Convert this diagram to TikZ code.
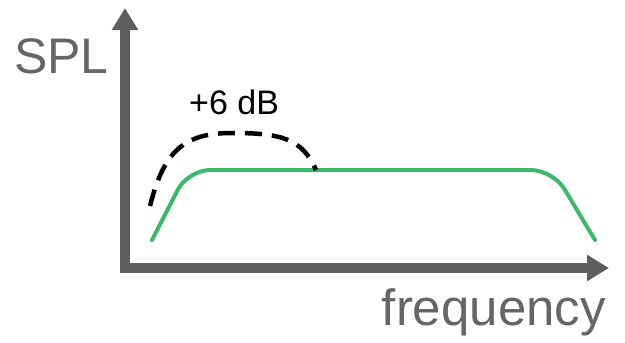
\documentclass[tikz,border=0pt]{standalone}
\usepackage{fontspec}
\setmainfont{Liberation Sans}
\usepackage{xcolor}
\usetikzlibrary{arrows.meta}
\definecolor{axisgray}{HTML}{5E5E60}
\definecolor{textgray}{HTML}{666666}
\definecolor{bandgreen}{HTML}{3DB86A}

\begin{document}
\begin{tikzpicture}[x=1pt,y=-1pt]
		\useasboundingbox (0,0) rectangle (625,343);
		% AXES
		\coordinate (o) at (125,268);
		\coordinate (ytip) at (125,8);
		\coordinate (xtip) at (609,268);
		\draw [{Triangle[length=22pt,width=25pt]}-{Triangle[length=22pt,width=25pt]},line width=10pt,axisgray,miter limit=10] (ytip) -- (o) -- (xtip);
		\node [textgray,anchor=base east,inner sep=0pt,font=\fontsize{50}{56}\selectfont] (spl) at (109,73) {SPL};
		\node [textgray,anchor=base east,inner sep=0pt,font=\fontsize{51}{58}\selectfont] (freq) at (606,325) {frequency};
		% RESPONSES
		\draw [bandgreen,line width=4pt,rounded corners=22pt,line cap=round] (152,240) -- (188,170) -- (553,170) -- (595,240);
		\draw [black,line width=4.5pt,dash pattern=on 17pt off 10pt] (150,206) .. controls (164,150) and (185,133) .. (232,133) .. controls (280,133) and (302,138) .. (316,170);
		\node [black,anchor=base west,inner sep=0pt,font=\fontsize{34}{40}\selectfont] (gain) at (189,114) {+6 dB};
\end{tikzpicture}
\end{document}
